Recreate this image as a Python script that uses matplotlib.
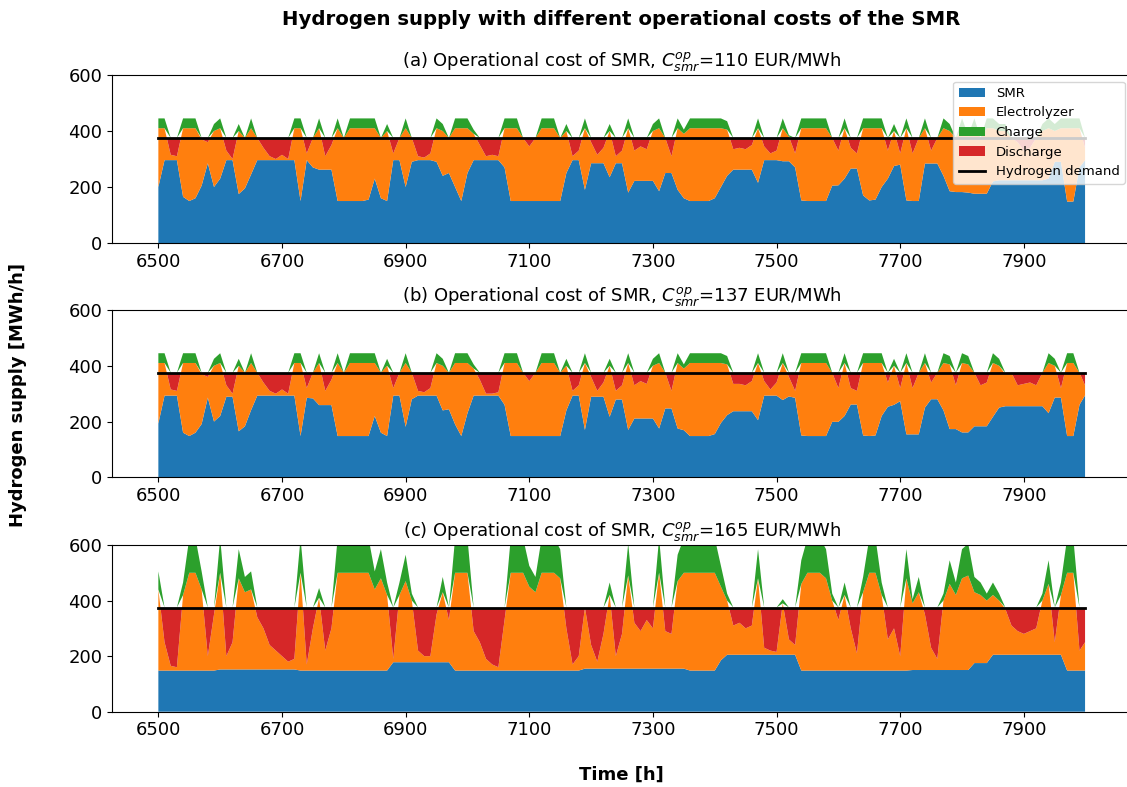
import numpy as np
import matplotlib.pyplot as plt
from matplotlib.patches import Rectangle

# hourly time axis sampled every 10 h, last hour of the year window
hours = np.append(np.arange(6500, 8000, 10), 7999)
demand_level = 375
demand = np.full(len(hours), demand_level)

costs = [110, 137, 165]

# (a) C_smr = 110 EUR/MWh
smr_a = [200, 296, 296, 296, 165, 150, 160, 205, 285, 200,
         230, 296, 296, 175, 195, 245, 296, 296, 296, 296,
         296, 296, 296, 150, 296, 270, 262, 262, 262, 150,
         150, 150, 150, 150, 155, 230, 160, 150, 296, 296,
         200, 290, 296, 296, 296, 290, 240, 250, 200, 150,
         250, 296, 296, 296, 296, 296, 270, 150, 150, 150,
         150, 150, 150, 150, 150, 150, 250, 296, 296, 190,
         285, 285, 285, 235, 285, 285, 180, 222, 222, 222,
         222, 185, 250, 250, 190, 160, 150, 150, 150, 150,
         160, 200, 240, 262, 262, 262, 262, 215, 296, 296,
         296, 292, 292, 270, 152, 150, 150, 150, 150, 205,
         206, 230, 266, 266, 170, 152, 155, 200, 230, 275,
         280, 152, 150, 150, 284, 284, 284, 240, 185, 182,
         182, 180, 176, 176, 176, 220, 224, 224, 224, 224,
         224, 224, 224, 224, 230, 290, 290, 148, 148, 270, 296]
elec_a = [210, 114, 19, 14, 245, 260, 250, 165, 75, 200,
          180, 34, 4, 225, 180, 165, 79, 44, 14, 4,
          19, 4, 114, 260, 24, 105, 148, 48, 88, 260,
          225, 260, 260, 260, 255, 180, 215, 250, 24, 79,
          210, 85, 14, 9, 24, 120, 160, 125, 210, 260,
          160, 94, 54, 14, 19, 14, 140, 260, 260, 225,
          195, 225, 260, 260, 260, 225, 150, 14, 34, 220,
          75, 30, 55, 165, 25, 45, 230, 108, 123, 113,
          178, 225, 125, 60, 220, 230, 260, 260, 260, 260,
          250, 210, 165, 73, 78, 73, 88, 195, 49, 24,
          34, 118, 88, 50, 258, 260, 260, 260, 260, 170,
          124, 180, 74, 54, 240, 258, 255, 210, 100, 125,
          40, 258, 170, 225, 126, 46, 91, 170, 215, 193,
          228, 200, 234, 199, 234, 190, 176, 176, 151, 136,
          106, 116, 151, 176, 180, 110, 120, 262, 262, 140, 44]
charge_a = [35, 35, 0, 0, 35, 35, 35, 0, 0, 25,
            35, 0, 0, 25, 0, 35, 0, 0, 0, 0,
            0, 0, 35, 35, 0, 0, 35, 0, 0, 35,
            0, 35, 35, 35, 35, 35, 0, 25, 0, 0,
            35, 0, 0, 0, 0, 35, 25, 0, 35, 35,
            35, 15, 0, 0, 0, 0, 35, 35, 35, 0,
            0, 0, 35, 35, 35, 0, 25, 0, 0, 35,
            0, 0, 0, 25, 0, 0, 35, 0, 0, 0,
            25, 35, 0, 0, 35, 15, 35, 35, 35, 35,
            35, 35, 30, 0, 0, 0, 0, 35, 0, 0,
            0, 35, 5, 0, 35, 35, 35, 35, 35, 0,
            0, 35, 0, 0, 35, 35, 35, 35, 0, 25,
            0, 35, 0, 0, 35, 0, 0, 35, 25, 0,
            35, 5, 35, 0, 35, 35, 25, 25, 0, 0,
            0, 0, 0, 25, 35, 25, 35, 35, 35, 35, 0]
discharge_a = [0, 0, 60, 65, 0, 0, 0, 5, 15, 0,
               0, 45, 75, 0, 0, 0, 0, 35, 65, 75,
               60, 75, 0, 0, 55, 0, 0, 65, 25, 0,
               0, 0, 0, 0, 0, 0, 0, 0, 55, 0,
               0, 0, 65, 70, 55, 0, 0, 0, 0, 0,
               0, 0, 25, 65, 60, 65, 0, 0, 0, 0,
               30, 0, 0, 0, 0, 0, 0, 65, 45, 0,
               15, 60, 35, 0, 65, 45, 0, 45, 30, 40,
               0, 0, 0, 65, 0, 0, 0, 0, 0, 0,
               0, 0, 0, 40, 35, 40, 25, 0, 30, 55,
               45, 0, 0, 55, 0, 0, 0, 0, 0, 0,
               45, 0, 35, 55, 0, 0, 0, 0, 45, 0,
               55, 0, 55, 0, 0, 45, 0, 0, 0, 0,
               0, 0, 0, 0, 0, 0, 0, 0, 0, 15,
               45, 35, 0, 0, 0, 0, 0, 0, 0, 0, 35]

# (b) C_smr = 137 EUR/MWh
smr_b = [193, 293, 293, 293, 160, 148, 160, 191, 286, 200,
         220, 289, 289, 165, 183, 241, 293, 293, 293, 293,
         293, 293, 293, 148, 285, 283, 259, 259, 259, 148,
         148, 148, 148, 148, 148, 220, 160, 148, 293, 293,
         181, 280, 293, 293, 293, 293, 240, 244, 190, 148,
         230, 293, 293, 293, 293, 293, 260, 148, 148, 148,
         148, 148, 148, 148, 148, 148, 240, 293, 293, 170,
         289, 289, 289, 217, 279, 279, 170, 211, 211, 211,
         211, 175, 247, 247, 175, 169, 148, 148, 148, 148,
         155, 195, 223, 237, 237, 237, 237, 205, 293, 293,
         293, 277, 290, 285, 150, 148, 148, 148, 148, 199,
         199, 220, 261, 261, 150, 148, 150, 220, 253, 260,
         273, 154, 154, 154, 250, 280, 280, 240, 173, 173,
         161, 161, 183, 183, 183, 217, 250, 255, 255, 255,
         255, 255, 255, 255, 230, 286, 286, 148, 148, 260, 294]
elec_b = [217, 117, 22, 17, 250, 262, 250, 179, 74, 200,
          190, 41, 11, 235, 192, 169, 82, 47, 17, 7,
          22, 7, 117, 262, 35, 92, 151, 51, 91, 262,
          227, 262, 262, 262, 262, 190, 215, 252, 27, 82,
          229, 95, 17, 12, 27, 117, 160, 131, 220, 262,
          180, 97, 57, 7, 7, 12, 150, 262, 262, 227,
          197, 227, 262, 262, 262, 227, 160, 17, 37, 240,
          71, 21, 51, 183, 31, 51, 240, 119, 134, 124,
          189, 235, 128, 63, 235, 221, 262, 262, 262, 262,
          255, 215, 182, 98, 98, 93, 108, 205, 52, 22,
          47, 133, 70, 25, 260, 262, 262, 262, 262, 176,
          121, 190, 59, 49, 260, 262, 260, 190, 87, 140,
          47, 256, 166, 221, 160, 60, 95, 170, 232, 157,
          249, 244, 192, 147, 157, 193, 150, 115, 120, 75,
          80, 85, 75, 120, 180, 114, 34, 262, 262, 115, 36]
charge_b = [35, 35, 0, 0, 35, 35, 35, 0, 0, 25,
            35, 0, 0, 25, 0, 35, 0, 0, 0, 0,
            0, 0, 35, 35, 0, 0, 35, 0, 0, 35,
            0, 35, 35, 35, 35, 35, 0, 25, 0, 0,
            35, 0, 0, 0, 0, 35, 25, 0, 35, 35,
            35, 15, 0, 0, 0, 0, 35, 35, 35, 0,
            0, 0, 35, 35, 35, 0, 25, 0, 0, 35,
            0, 0, 0, 25, 0, 0, 35, 0, 0, 0,
            25, 35, 0, 0, 35, 15, 35, 35, 35, 35,
            35, 35, 30, 0, 0, 0, 0, 35, 0, 0,
            0, 35, 0, 0, 35, 35, 35, 35, 35, 0,
            0, 35, 0, 0, 35, 35, 35, 35, 0, 25,
            0, 35, 0, 0, 35, 0, 0, 35, 30, 0,
            35, 30, 0, 0, 0, 35, 25, 0, 0, 0,
            0, 0, 0, 0, 35, 25, 0, 35, 35, 0, 0]
discharge_b = [0, 0, 60, 65, 0, 0, 0, 5, 15, 0,
               0, 45, 75, 0, 0, 0, 0, 35, 65, 75,
               60, 75, 0, 0, 55, 0, 0, 65, 25, 0,
               0, 0, 0, 0, 0, 0, 0, 0, 55, 0,
               0, 0, 65, 70, 55, 0, 0, 0, 0, 0,
               0, 0, 25, 75, 75, 70, 0, 0, 0, 0,
               30, 0, 0, 0, 0, 0, 0, 65, 45, 0,
               15, 65, 35, 0, 65, 45, 0, 45, 30, 40,
               0, 0, 0, 65, 0, 0, 0, 0, 0, 0,
               0, 0, 0, 40, 40, 45, 30, 0, 30, 60,
               35, 0, 15, 65, 0, 0, 0, 0, 0, 0,
               55, 0, 55, 65, 0, 0, 0, 0, 35, 0,
               55, 0, 55, 0, 0, 35, 0, 0, 0, 45,
               0, 0, 0, 45, 35, 0, 0, 5, 0, 45,
               40, 35, 45, 0, 0, 0, 55, 0, 0, 0, 45]

# (c) C_smr = 165 EUR/MWh
smr_c = [148, 148, 148, 148, 148, 148, 148, 148, 148, 148,
         152, 152, 152, 152, 152, 152, 152, 152, 152, 152,
         152, 152, 152, 148, 148, 148, 148, 148, 148, 148,
         148, 148, 148, 148, 148, 148, 148, 148, 178, 178,
         178, 178, 178, 178, 178, 178, 178, 178, 148, 148,
         148, 148, 148, 148, 148, 148, 148, 148, 148, 148,
         148, 148, 148, 148, 148, 148, 148, 148, 148, 155,
         155, 155, 155, 155, 155, 155, 155, 155, 155, 155,
         155, 155, 155, 155, 155, 155, 148, 148, 148, 148,
         148, 185, 205, 205, 205, 205, 205, 205, 205, 205,
         205, 205, 205, 205, 148, 148, 148, 148, 148, 148,
         148, 148, 148, 148, 148, 148, 148, 148, 148, 148,
         148, 148, 150, 150, 150, 150, 150, 150, 150, 150,
         150, 150, 175, 175, 175, 205, 205, 205, 205, 205,
         205, 205, 205, 205, 205, 205, 205, 148, 148, 148, 148]
elec_c = [292, 102, 17, 12, 272, 352, 352, 292, 52, 202,
          348, 48, 98, 328, 278, 288, 188, 148, 88, 68,
          48, 28, 38, 352, 22, 152, 262, 72, 152, 352,
          352, 352, 352, 352, 352, 292, 332, 272, 12, 242,
          292, 222, 42, 22, 22, 172, 252, 152, 352, 352,
          352, 142, 102, 42, 22, 12, 182, 352, 352, 352,
          302, 282, 352, 352, 352, 332, 152, 22, 52, 220,
          85, 25, 125, 265, 45, 125, 335, 165, 135, 175,
          145, 345, 135, 125, 315, 345, 352, 352, 352, 352,
          352, 265, 195, 105, 115, 95, 105, 275, 25, 15,
          10, 185, 55, 35, 312, 352, 352, 352, 332, 252,
          182, 272, 152, 62, 282, 352, 352, 272, 112, 152,
          52, 332, 240, 280, 200, 80, 40, 250, 310, 270,
          330, 340, 255, 245, 225, 215, 195, 165, 105, 85,
          75, 85, 95, 195, 255, 45, 215, 352, 352, 72, 102]
charge_c = [65, 0, 0, 0, 45, 125, 125, 65, 0, 0,
            125, 0, 0, 105, 55, 65, 0, 0, 0, 0,
            0, 0, 0, 125, 0, 0, 35, 0, 0, 125,
            125, 125, 125, 125, 125, 65, 105, 45, 0, 45,
            95, 25, 0, 0, 0, 0, 55, 0, 125, 125,
            125, 0, 0, 0, 0, 0, 0, 125, 125, 125,
            75, 55, 125, 125, 125, 105, 0, 0, 0, 0,
            0, 0, 0, 45, 0, 0, 115, 0, 0, 0,
            0, 125, 0, 0, 95, 125, 125, 125, 125, 125,
            125, 75, 25, 0, 0, 0, 0, 105, 0, 0,
            0, 15, 0, 0, 85, 125, 125, 125, 105, 25,
            0, 45, 0, 0, 55, 125, 125, 45, 0, 0,
            0, 105, 15, 55, 0, 0, 0, 25, 85, 45,
            105, 115, 55, 45, 25, 45, 25, 0, 0, 0,
            0, 0, 0, 25, 85, 0, 45, 125, 125, 0, 0]
discharge_c = [0, 125, 210, 215, 0, 0, 0, 0, 175, 25,
               0, 175, 125, 0, 0, 0, 35, 75, 135, 155,
               175, 195, 185, 0, 205, 75, 0, 155, 75, 0,
               0, 0, 0, 0, 0, 0, 0, 0, 185, 0,
               0, 0, 155, 175, 175, 25, 0, 45, 0, 0,
               0, 85, 125, 185, 205, 215, 45, 0, 0, 0,
               0, 0, 0, 0, 0, 0, 75, 205, 175, 0,
               135, 195, 95, 0, 175, 95, 0, 55, 85, 45,
               75, 0, 85, 95, 0, 0, 0, 0, 0, 0,
               0, 0, 0, 65, 55, 75, 65, 0, 145, 155,
               160, 0, 115, 135, 0, 0, 0, 0, 0, 0,
               45, 0, 75, 165, 0, 0, 0, 0, 115, 75,
               175, 0, 0, 0, 25, 145, 185, 0, 0, 0,
               0, 0, 0, 0, 0, 0, 0, 5, 65, 85,
               95, 85, 75, 0, 0, 125, 0, 0, 0, 155, 125]

panels = [(smr_a, elec_a, charge_a, discharge_a),
          (smr_b, elec_b, charge_b, discharge_b),
          (smr_c, elec_c, charge_c, discharge_c)]

fig = plt.figure(figsize=(11.27, 7.87), dpi=100)

# axes boxes in figure fractions; right edge runs slightly past the canvas
rects = [[0.0994, 0.6912, 0.9045, 0.2135],
         [0.0994, 0.3935, 0.9045, 0.2126],
         [0.0994, 0.0957, 0.9045, 0.2118]]

for i, (smr, elec, charge, discharge) in enumerate(panels):
    ax = fig.add_axes(rects[i])
    polys = ax.stackplot(hours, smr, elec, discharge, charge,
                         colors=['tab:blue', 'tab:orange', 'tab:red', 'tab:green'],
                         labels=['SMR', 'Electrolyzer', 'Discharge', 'Charge'])
    # discharge only fills the gap up to the demand line
    clip = Rectangle((hours[0] - 200, 0), 2000, demand_level, transform=ax.transData)
    polys[2].set_clip_path(clip)
    line, = ax.plot(hours, demand, color='black', lw=2, label='Hydrogen demand')

    ax.set_ylim(0, 600)
    ax.set_yticks([0, 200, 400, 600])
    ax.set_xticks(np.arange(6500, 8000, 200))
    ax.tick_params(labelsize=13)
    ax.set_title('(%s) Operational cost of SMR, $C_{smr}^{op}$=%d EUR/MWh'
                 % ('abc'[i], costs[i]), fontsize=13)

    if i == 0:
        handles = [polys[0], polys[1], polys[3], polys[2], line]
        ax.legend(handles, [h.get_label() for h in handles],
                  loc='upper right', fontsize=9.5)

fig.text(0.5515, 0.975, 'Hydrogen supply with different operational costs of the SMR',
         ha='center', va='center', fontsize=14.2, fontweight='bold')
fig.text(0.016, 0.498, 'Hydrogen supply [MWh/h]', rotation=90,
         ha='center', va='center', fontsize=13, fontweight='bold')
fig.text(0.5515, 0.015, 'Time [h]', ha='center', va='center',
         fontsize=13, fontweight='bold')

fig.savefig('out.png', dpi=100)
